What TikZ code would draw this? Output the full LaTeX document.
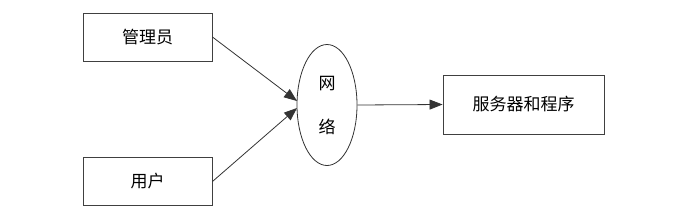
\documentclass[tikz,border=0pt]{standalone}
\usepackage{fontspec}
\newfontfamily\cjk{Noto Sans CJK SC}
\usetikzlibrary{shapes.geometric,arrows.meta}
\begin{document}
\begin{tikzpicture}[x=1pt,y=-1pt,
  lbl/.style={font=\cjk\fontsize{17}{20}\selectfont},
  box/.style={lbl,draw=black!75,line width=0.9pt,minimum width=129pt,minimum height=48pt,inner sep=0pt},
  conn/.style={draw=black!80,line width=0.8pt,-{Triangle[length=13pt,width=10pt]}}]
\useasboundingbox (0,0) rectangle (684,220);
\node[box] (admin) at (147.5,37) {管理员};
\node[box] (user) at (147.5,181.5) {用户};
\node[lbl,draw=black!80,line width=0.8pt,ellipse,minimum width=60pt,minimum height=121pt,inner sep=0pt,align=center] (net) at (327,105) {网\\[24pt]络};
\node[box,minimum width=161pt,minimum height=59pt] (srv) at (523.5,104.5) {服务器和程序};
\coordinate (netin1) at (297,101);
\coordinate (netin2) at (297,108);
\draw[conn] (admin.east) -- (netin1);
\draw[conn] (user.east) -- (netin2);
\draw[conn] (net.east) -- (srv.west);
\end{tikzpicture}
\end{document}
